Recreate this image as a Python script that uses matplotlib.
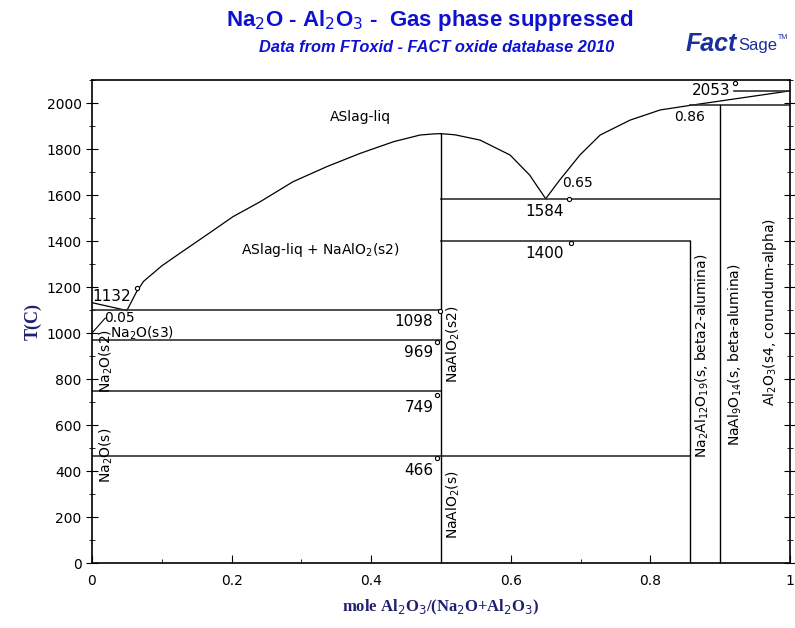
import matplotlib.pyplot as plt
from matplotlib.ticker import MultipleLocator

# liquidus branches (mole fraction Al2O3, T in C)
liq_a_x = [0.0, 0.05]
liq_a_t = [1132, 1098]
liq_b_x = [0.05, 0.064, 0.074, 0.100, 0.126, 0.164, 0.202, 0.241, 0.288, 0.336, 0.384, 0.432, 0.470, 0.490, 0.5]
liq_b_t = [1098, 1180, 1225, 1292, 1347, 1426, 1506, 1571, 1658, 1723, 1781, 1832, 1861, 1866, 1867]
liq_c_x = [0.5, 0.52, 0.556, 0.599, 0.627, 0.65]
liq_c_t = [1867, 1862, 1839, 1774, 1687, 1584]
liq_d_x = [0.65, 0.670, 0.699, 0.728, 0.771, 0.814, 0.857]
liq_d_t = [1584, 1665, 1774, 1861, 1926, 1970, 1990]
liq_e_x = [0.857, 1.0]
liq_e_t = [1990, 2053]

# invariant lines: (T, x_start, x_end)
iso_t = [1098, 969, 749, 466, 1584, 1400, 1990, 2053]
iso_x0 = [0.0, 0.0, 0.0, 0.0, 0.5, 0.5, 0.857, 0.92]
iso_x1 = [0.5, 0.5, 0.5, 0.857, 0.9, 0.857, 1.0, 1.0]

# compound lines: (x, T_top)
comp_x = [0.5, 0.857, 0.9]
comp_t = [1867, 1400, 1990]

# labelled points
pt_x = [0.0645, 0.4986, 0.494, 0.494, 0.494, 0.683, 0.686, 0.921]
pt_t = [1196, 1096, 961, 730, 457, 1583, 1391, 2087]
pt_lab = ['1132', '1098', '969', '749', '466', '1584', '1400', '2053']

fig = plt.figure(figsize=(7.95, 6.28), dpi=100)
ax = fig.add_axes([0.1157, 0.1035, 0.878, 0.769])

blue = '#1010d0'
navy = '#202070'
lc = 'black'

for xs, ts in [(liq_a_x, liq_a_t), (liq_b_x, liq_b_t), (liq_c_x, liq_c_t),
               (liq_d_x, liq_d_t), (liq_e_x, liq_e_t)]:
    ax.plot(xs, ts, color=lc, lw=0.9)

for t, x0, x1 in zip(iso_t, iso_x0, iso_x1):
    ax.plot([x0, x1], [t, t], color='#303030', lw=1.2)

for x, t in zip(comp_x, comp_t):
    ax.plot([x, x], [0, t], color=lc, lw=1.0)

ax.plot([0.0, 0.019], [1000, 1065], color=lc, lw=0.8)

ax.plot(pt_x, pt_t, 'o', ms=3, mfc='white', mec='black', mew=0.8, zorder=5)

fs = 11
lab_x = [0.0, 0.489, 0.489, 0.489, 0.489, 0.676, 0.676, 0.915]
lab_t = [1160, 1048, 915, 678, 404, 1530, 1348, 2053]
lab_ha = ['left', 'right', 'right', 'right', 'right', 'right', 'right', 'right']
for x, t, s, ha in zip(lab_x, lab_t, pt_lab, lab_ha):
    ax.text(x, t, s, fontsize=fs, ha=ha, va='center')

ax.text(0.04, 1065, '0.05', fontsize=10, ha='center', va='center')
ax.text(0.695, 1652, '0.65', fontsize=10, ha='center', va='center')
ax.text(0.856, 1938, '0.86', fontsize=10, ha='center', va='center')

ax.text(0.385, 1939, 'ASlag-liq', fontsize=10, ha='center', va='center')
ax.text(0.327, 1361, 'ASlag-liq + NaAlO$_2$(s2)', fontsize=10, ha='center', va='center')
ax.text(0.026, 1000, 'Na$_2$O(s3)', fontsize=10, ha='left', va='center')
ax.text(0.02, 880, 'Na$_2$O(s2)', fontsize=10, ha='center', va='center', rotation=90)
ax.text(0.02, 470, 'Na$_2$O(s)', fontsize=10, ha='center', va='center', rotation=90)
ax.text(0.517, 950, 'NaAlO$_2$(s2)', fontsize=10, ha='center', va='center', rotation=90)
ax.text(0.517, 252, 'NaAlO$_2$(s)', fontsize=10, ha='center', va='center', rotation=90)
ax.text(0.874, 900, 'Na$_2$Al$_{12}$O$_{19}$(s, beta2-alumina)', fontsize=10,
        ha='center', va='center', rotation=90)
ax.text(0.921, 904, 'NaAl$_9$O$_{14}$(s, beta-alumina)', fontsize=10,
        ha='center', va='center', rotation=90)
ax.text(0.971, 1090, 'Al$_2$O$_3$(s4, corundum-alpha)', fontsize=10,
        ha='center', va='center', rotation=90)

ax.set_xlim(0, 1)
ax.set_ylim(0, 2100)
ax.xaxis.set_major_locator(MultipleLocator(0.2))
ax.xaxis.set_minor_locator(MultipleLocator(0.1))
ax.yaxis.set_major_locator(MultipleLocator(200))
ax.yaxis.set_minor_locator(MultipleLocator(100))
ax.set_xticks([0, 0.2, 0.4, 0.6, 0.8, 1.0])
ax.set_xticklabels(['0', '0.2', '0.4', '0.6', '0.8', '1'])
ax.tick_params(axis='x', which='major', direction='in', length=6, labelsize=10, pad=8)
ax.tick_params(axis='x', which='minor', direction='in', length=3)
ax.tick_params(axis='y', which='major', direction='inout', length=8, labelsize=10,
               right=True)
ax.tick_params(axis='y', which='minor', direction='inout', length=5, right=True)
for sp in ax.spines.values():
    sp.set_linewidth(1.2)

ax.set_ylabel('T(C)', fontsize=13, fontweight='bold', color=navy,
              family='Liberation Serif', labelpad=3)
ax.set_xlabel('mole Al$_2$O$_3$/(Na$_2$O+Al$_2$O$_3$)', fontsize=12, fontweight='bold',
              color=navy, family='Liberation Serif', labelpad=7)

fig.text(0.54, 0.968, 'Na$_2$O - Al$_2$O$_3$ -  Gas phase suppressed', fontsize=16,
         fontweight='bold', color=blue, ha='center', va='center', family='Liberation Sans')
fig.text(0.549, 0.925, 'Data from FToxid - FACT oxide database 2010', fontsize=11.8,
         fontweight='bold', style='italic', color=blue, ha='center', va='center',
         family='Liberation Sans')
fig.text(0.862, 0.93, 'Fact', fontsize=18, fontweight='bold', style='italic',
         color='#1a2f9a', ha='left', va='center', family='Liberation Sans')
fig.text(0.929, 0.928, 'Sage', fontsize=12, color='#1a2f9a', ha='left',
         va='center', family='Liberation Sans')
fig.text(0.978, 0.94, 'TM', fontsize=5, color='#1a2f9a', ha='left',
         va='center', family='Liberation Sans')

fig.savefig('out.png', dpi=100)
